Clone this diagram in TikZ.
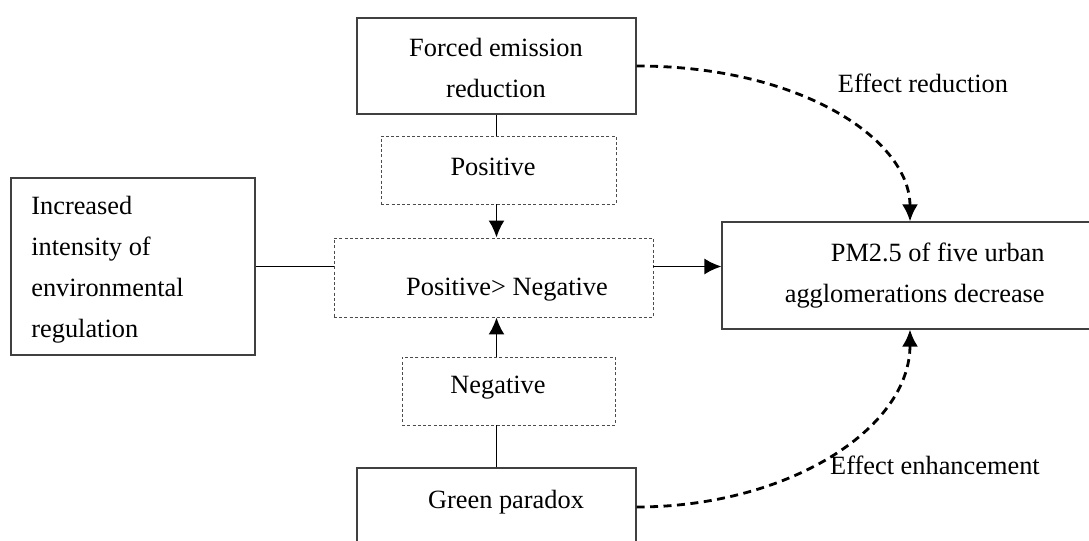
\documentclass[tikz,border=0pt]{standalone}
\usepackage{fontspec}
\setmainfont{Liberation Serif}
\usetikzlibrary{arrows.meta,calc}
\tikzset{
  solidbox/.style={draw=black!75, line width=0.6pt, inner sep=0pt},
  dashbox/.style={draw=black!70, line width=0.55pt, dash pattern=on 0.6mm off 0.45mm, inner sep=0pt},
  txt/.style={inner sep=0pt, font=\fontsize{15}{23.3}\selectfont},
  plain/.style={line width=1.1pt},
  link/.style={line width=1.1pt, -{Latex[length=3.4mm,width=3.2mm]}},
  effect/.style={line width=1.6pt, dash pattern=on 1.6mm off 1.1mm, -{Latex[length=3.4mm,width=3.2mm]}}
}

\begin{document}
\begin{tikzpicture}[x=0.2mm,y=-0.2mm]
        \clip (0,0) rectangle (1089,541);
        % The boxes
        \node[solidbox,minimum width=55.8mm,minimum height=19.2mm] (forced) at (496.5,66) {};
        \node[dashbox,minimum width=47mm,minimum height=13.6mm] (pos) at (498.5,170) {};
        \node[dashbox,minimum width=63.8mm,minimum height=15.8mm] (posneg) at (493.5,277.5) {};
        \node[solidbox,minimum width=48.8mm,minimum height=35.4mm] (regul) at (133,266.5) {};
        \node[solidbox,minimum width=75.2mm,minimum height=21.4mm] (pm) at (910,275.5) {};
        \node[dashbox,minimum width=42.6mm,minimum height=13.6mm] (neg) at (508.5,391) {};
        \node[solidbox,minimum width=55.8mm,minimum height=15.6mm] (green) at (496.5,507) {};

        % The texts
        \node[txt,align=center] (forcedtxt) at (496,68) {Forced emission\\reduction};
        \node[txt] (postxt) at (493,167) {Positive};
        \node[txt] (posnegtxt) at (507,290) {Positive> Negative};
        \node[txt,align=left,anchor=west] (regultxt) at (31,270) {Increased\\intensity of\\environmental\\regulation};
        \node[txt,align=right,anchor=east] (pmtxt) at (1045,276) {PM2.5 of five urban\\agglomerations decrease};
        \node[txt] (negtxt) at (498,388) {Negative};
        \node[txt] (greentxt) at (506,502) {Green paradox};
        \node[txt] (reductxt) at (923,83) {Effect reduction};
        \node[txt] (enhtxt) at (935,465) {Effect enhancement};

        % Links
        \draw[plain] (forced.south) -- (forced.south |- pos.north);
        \draw[link] (forced.south |- pos.south) -- (forced.south |- posneg.north);
        \draw[plain] (green.north) -- (green.north |- neg.south);
        \draw[link] (green.north |- neg.north) -- (green.north |- posneg.south);
        \draw[plain] (regul.east) -- (regul.east -| posneg.west);
        \draw[link] (regul.east -| posneg.east) -- (regul.east -| pm.west);

        % Effects
        \draw[effect] (forced.east) .. controls +(164,0) and +(0,-82) .. (pm.north);
        \draw[effect] (green.east) .. controls +(150,0) and +(0,100) .. (pm.south);
\end{tikzpicture}
\end{document}
